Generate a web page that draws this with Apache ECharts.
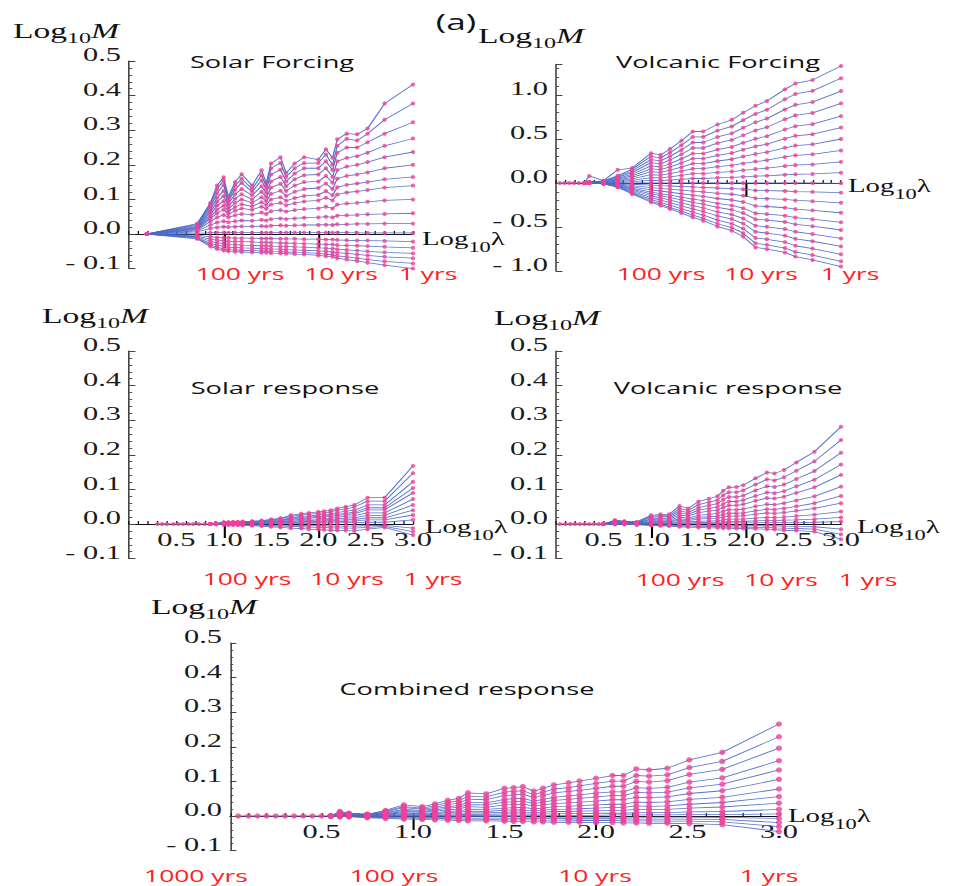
<!DOCTYPE html>
<html>
<head>
<meta charset="utf-8">
<script src="https://cdn.jsdelivr.net/npm/echarts@6/dist/echarts.min.js"></script>
<style>
html, body { margin: 0; padding: 0; background: #fff; overflow: hidden; }
/* the original figure is stretched sideways, so draw narrow and widen */
#chart { width: 595.625px; height: 886px; transform: scaleX(1.6); transform-origin: 0 0; }
</style>
</head>
<body>
<div id="chart"></div>
<script>
var S = 1.6;

// ---- Solar forcing ----
var solarForcingX = [0.19, 0.72, 0.86, 0.93, 1.0, 1.05, 1.12, 1.19, 1.3, 1.4, 1.45, 1.5, 1.6, 1.66, 1.75, 1.85, 2.0, 2.08, 2.15, 2.2, 2.3, 2.41, 2.52, 2.7, 3.0];
var solarForcingM = [
  [0, .03, .09, .14, .164, .107, .15, .173, .14, .184, .147, .204, .222, .176, .204, .222, .215, .245, .22, .274, .29, .288, .305, .377, .432],
  [0, .028, .085, .13, .155, .10, .14, .16, .13, .17, .138, .19, .205, .165, .19, .205, .205, .23, .2, .255, .275, .27, .29, .33, .377],
  [0, .025, .078, .118, .142, .095, .128, .148, .122, .155, .13, .172, .186, .152, .175, .19, .19, .21, .185, .235, .25, .25, .265, .29, .323],
  [0, .022, .07, .105, .125, .088, .115, .13, .112, .138, .118, .152, .165, .138, .158, .17, .172, .19, .165, .21, .22, .225, .235, .255, .276],
  [0, .02, .063, .093, .11, .08, .102, .115, .1, .122, .106, .134, .145, .124, .14, .15, .152, .168, .148, .185, .195, .2, .208, .222, .237],
  [0, .018, .056, .082, .095, .072, .09, .1, .09, .106, .095, .116, .125, .11, .122, .13, .133, .146, .13, .16, .168, .172, .178, .19, .2],
  [0, .016, .05, .07, .082, .064, .078, .086, .08, .092, .084, .1, .106, .096, .104, .11, .113, .124, .112, .135, .142, .146, .15, .158, .165],
  [0, .014, .044, .06, .07, .057, .067, .074, .07, .079, .073, .085, .09, .083, .089, .094, .097, .105, .097, .114, .12, .123, .127, .134, .14],
  [0, .012, .036, .048, .055, .048, .054, .058, .056, .062, .058, .066, .069, .065, .069, .072, .074, .079, .074, .085, .088, .09, .093, .097, .1],
  [0, .009, .026, .033, .037, .034, .037, .039, .038, .041, .039, .043, .045, .043, .045, .047, .048, .05, .048, .053, .054, .055, .057, .058, .06],
  [0, .006, .016, .019, .021, .02, .021, .022, .022, .023, .022, .024, .025, .024, .025, .026, .026, .027, .026, .028, .028, .029, .029, .03, .03],
  [0, .002, .004, .004, .004, .004, .004, .004, .004, .004, .004, .004, .004, .004, .004, .004, .004, .004, .004, .004, .004, .003, .003, .003, .003],
  [0, -.003, -.008, -.01, -.011, -.011, -.012, -.012, -.012, -.013, -.013, -.013, -.014, -.014, -.014, -.015, -.015, -.016, -.016, -.017, -.018, -.019, -.019, -.02, -.022],
  [0, -.006, -.015, -.018, -.02, -.021, -.022, -.022, -.023, -.024, -.024, -.025, -.026, -.026, -.027, -.028, -.029, -.03, -.03, -.032, -.033, -.034, -.035, -.037, -.04],
  [0, -.008, -.021, -.025, -.028, -.03, -.031, -.032, -.033, -.034, -.034, -.035, -.036, -.036, -.037, -.038, -.04, -.041, -.042, -.044, -.046, -.048, -.05, -.053, -.056],
  [0, -.01, -.027, -.032, -.036, -.038, -.039, -.04, -.041, -.042, -.042, -.043, -.044, -.045, -.046, -.047, -.049, -.05, -.052, -.054, -.056, -.059, -.062, -.066, -.07],
  [0, -.012, -.032, -.038, -.043, -.045, -.046, -.047, -.048, -.049, -.049, -.05, -.051, -.052, -.053, -.054, -.056, -.058, -.06, -.063, -.066, -.07, -.074, -.079, -.085],
  [0, -.014, -.036, -.043, -.048, -.05, -.051, -.052, -.053, -.054, -.054, -.055, -.056, -.057, -.058, -.059, -.062, -.064, -.066, -.07, -.074, -.078, -.083, -.09, -.1]
];

// ---- Volcanic forcing ----
var volcanicForcingTrunkX = [0.04, 0.09, 0.14, 0.19, 0.24, 0.3];
var volcanicForcingTrunkM = [0, 0, 0, 0, 0, 0];
var volcanicForcingX = [0.3, 0.35, 0.5, 0.65, 0.8, 1.0, 1.1, 1.2, 1.32, 1.44, 1.55, 1.7, 1.85, 1.97, 2.1, 2.22, 2.41, 2.52, 2.7, 3.0];
var volcanicForcingM = [
  [0, .08, .027, .15, .17, .339, .319, .386, .479, .585, .585, .665, .718, .798, .878, .931, 1.064, 1.131, 1.17, 1.33],
  [0, .012, .024, .083, .155, .303, .286, .345, .428, .524, .524, .595, .643, .714, .785, .833, .952, 1.012, 1.047, 1.19],
  [0, .01, .021, .073, .136, .266, .251, .303, .376, .46, .46, .523, .564, .627, .69, .732, .836, .888, .92, 1.045],
  [0, .009, .018, .063, .118, .231, .217, .262, .326, .398, .398, .453, .489, .543, .597, .634, .724, .769, .796, .905],
  [0, .008, .015, .053, .099, .194, .182, .22, .274, .334, .334, .38, .41, .456, .502, .532, .608, .646, .669, .76],
  [0, .006, .013, .044, .082, .161, .151, .183, .227, .277, .277, .315, .34, .378, .416, .441, .504, .536, .554, .63],
  [0, .005, .01, .035, .065, .128, .12, .145, .18, .22, .22, .25, .27, .3, .33, .35, .4, .425, .44, .5],
  [0, .004, .007, .026, .048, .094, .089, .107, .133, .163, .163, .185, .2, .222, .244, .259, .296, .315, .326, .37],
  [0, .002, .005, .017, .031, .061, .058, .07, .086, .106, .106, .12, .13, .144, .158, .168, .192, .204, .211, .24],
  [0, .001, .002, .008, .015, .03, .028, .034, .042, .051, .051, .059, .063, .07, .077, .082, .094, .099, .103, .117],
  [0, 0, 0, 0, 0, 0, 0, 0, 0, 0, 0, 0, 0, 0, 0, 0, 0, 0, 0, -.004],
  [0, 0, -.001, -.006, -.014, -.025, -.03, -.034, -.04, -.045, -.05, -.057, -.063, -.07, -.085, -.087, -.091, -.097, -.101, -.11],
  [0, 0, -.002, -.011, -.029, -.052, -.061, -.07, -.081, -.092, -.101, -.117, -.128, -.144, -.173, -.178, -.187, -.198, -.207, -.225],
  [0, 0, -.003, -.017, -.044, -.078, -.091, -.105, -.122, -.139, -.152, -.176, -.193, -.216, -.26, -.267, -.281, -.297, -.311, -.338],
  [0, 0, -.004, -.022, -.058, -.103, -.121, -.139, -.161, -.183, -.201, -.232, -.255, -.286, -.344, -.353, -.371, -.393, -.411, -.447],
  [0, 0, -.005, -.027, -.069, -.123, -.144, -.166, -.192, -.219, -.24, -.278, -.304, -.342, -.411, -.422, -.443, -.47, -.491, -.534],
  [0, 0, -.006, -.032, -.082, -.145, -.17, -.195, -.227, -.258, -.284, -.328, -.359, -.403, -.485, -.498, -.523, -.554, -.58, -.63],
  [0, 0, -.007, -.036, -.094, -.166, -.194, -.223, -.259, -.295, -.324, -.374, -.41, -.461, -.554, -.569, -.598, -.634, -.662, -.72],
  [0, 0, -.008, -.041, -.105, -.186, -.219, -.251, -.292, -.332, -.365, -.421, -.462, -.518, -.624, -.64, -.672, -.713, -.745, -.81],
  [0, 0, -.009, -.045, -.116, -.205, -.24, -.276, -.32, -.365, -.401, -.463, -.507, -.57, -.685, -.703, -.739, -.783, -.819, -.89],
  [0, 0, -.01, -.048, -.124, -.219, -.257, -.295, -.342, -.39, -.428, -.494, -.542, -.608, -.732, -.751, -.789, -.836, -.874, -.95]
];

// ---- Solar response ----
var solarResponseTrunkX = [0.3, 0.35, 0.4, 0.47, 0.52, 0.57, 0.63, 0.68, 0.74, 0.8, 0.86];
var solarResponseTrunkM = [0, 0, 0, 0, 0, 0, 0, 0, 0, 0, 0];
var solarResponseX = [0.86, 0.92, 1.0, 1.05, 1.1, 1.15, 1.2, 1.3, 1.4, 1.5, 1.6, 1.71, 1.82, 1.9, 2.0, 2.06, 2.13, 2.2, 2.29, 2.38, 2.52, 2.7, 3.0];
var solarResponseM = [
  [0, .002, .005, .005, .006, .006, .007, .008, .01, .013, .017, .025, .03, .032, .035, .037, .04, .045, .05, .055, .076, .076, .168],
  [0, .001, .004, .004, .005, .005, .006, .007, .009, .012, .015, .022, .026, .028, .031, .032, .035, .04, .044, .049, .066, .066, .147],
  [0, .001, .004, .004, .004, .005, .005, .006, .007, .01, .012, .018, .022, .023, .026, .027, .029, .033, .037, .04, .055, .055, .122],
  [0, .001, .003, .003, .004, .004, .004, .005, .006, .008, .01, .016, .019, .02, .022, .023, .025, .028, .031, .034, .047, .047, .104],
  [0, .001, .003, .003, .003, .003, .004, .005, .005, .007, .009, .014, .016, .017, .019, .02, .022, .024, .027, .03, .041, .041, .09],
  [0, .001, .002, .002, .003, .003, .003, .004, .004, .006, .007, .011, .013, .014, .015, .016, .017, .019, .022, .024, .032, .032, .072],
  [0, .001, .002, .002, .002, .002, .002, .003, .003, .004, .006, .008, .01, .01, .012, .012, .013, .015, .017, .018, .025, .025, .055],
  [0, 0, .001, .001, .001, .001, .002, .002, .002, .003, .004, .006, .007, .008, .008, .009, .01, .011, .012, .013, .018, .018, .04],
  [0, 0, .001, .001, .001, .001, .001, .001, .002, .002, .003, .004, .005, .005, .005, .006, .006, .007, .008, .009, .012, .012, .026],
  [0, 0, 0, 0, 0, 0, 0, .001, .001, .001, .001, .002, .002, .002, .003, .003, .003, .003, .004, .004, .005, .005, .012],
  [0, 0, -.001, -.001, -.001, -.001, -.001, -.002, -.002, -.003, -.003, -.004, -.004, -.005, -.005, -.005, -.006, -.006, -.006, -.006, -.005, -.004, -.012],
  [0, 0, -.001, -.002, -.002, -.002, -.003, -.003, -.004, -.005, -.006, -.007, -.008, -.009, -.01, -.01, -.011, -.011, -.012, -.012, -.01, -.007, -.022],
  [0, -.001, -.002, -.002, -.003, -.003, -.004, -.005, -.006, -.008, -.01, -.012, -.013, -.015, -.016, -.017, -.018, -.018, -.019, -.02, -.015, -.01, -.032]
];

// ---- Volcanic response ----
var volcanicResponseTrunkX = [0.04, 0.1, 0.15, 0.2, 0.25, 0.3, 0.35, 0.4, 0.45, 0.5];
var volcanicResponseTrunkM = [0, 0, 0, 0, 0, 0, 0, 0, 0, 0];
var volcanicResponseX = [0.5, 0.62, 0.72, 0.85, 1.0, 1.1, 1.19, 1.3, 1.39, 1.5, 1.61, 1.7, 1.76, 1.82, 1.9, 1.97, 2.1, 2.22, 2.3, 2.4, 2.53, 2.72, 3.0];
var volcanicResponseM = [
  [0, .011, .008, .006, .025, .028, .028, .052, .045, .065, .073, .08, .096, .106, .107, .112, .132, .149, .146, .156, .178, .209, .281],
  [0, .01, .007, .005, .022, .024, .024, .045, .039, .056, .063, .069, .083, .092, .092, .097, .114, .129, .126, .135, .154, .181, .243],
  [0, .008, .006, .004, .019, .021, .021, .038, .033, .047, .054, .059, .07, .078, .078, .082, .097, .109, .107, .114, .13, .153, .206],
  [0, .007, .005, .003, .015, .017, .017, .032, .028, .04, .045, .049, .058, .065, .065, .069, .081, .091, .089, .095, .109, .128, .172],
  [0, .006, .004, .003, .013, .014, .014, .026, .023, .033, .037, .04, .048, .054, .054, .057, .067, .075, .074, .079, .09, .106, .142],
  [0, .004, .003, .002, .01, .011, .011, .02, .017, .025, .028, .031, .037, .041, .041, .043, .051, .057, .056, .06, .068, .08, .108],
  [0, .003, .002, .002, .007, .008, .008, .015, .013, .019, .021, .023, .028, .031, .031, .032, .038, .043, .042, .045, .051, .06, .081],
  [0, .002, .002, .001, .005, .006, .006, .011, .01, .014, .016, .017, .02, .023, .023, .024, .028, .032, .031, .033, .038, .045, .06],
  [0, .001, .001, .001, .003, .004, .004, .007, .006, .008, .009, .01, .012, .014, .014, .014, .017, .019, .019, .02, .023, .027, .036],
  [0, .001, .001, 0, .002, .002, .002, .004, .003, .004, .005, .005, .006, .007, .007, .008, .009, .01, .01, .011, .012, .014, .019],
  [0, 0, 0, 0, .001, .001, .001, .001, .001, .002, .002, .002, .002, .003, .003, .003, .003, .004, .004, .004, .004, .005, .007],
  [0, 0, 0, -.001, -.002, -.002, -.002, -.003, -.003, -.003, -.004, -.004, -.004, -.004, -.004, -.005, -.005, -.005, -.005, -.006, -.007, -.008, -.015],
  [0, -.001, -.001, -.002, -.003, -.004, -.004, -.005, -.006, -.007, -.007, -.008, -.008, -.008, -.009, -.009, -.01, -.01, -.011, -.012, -.013, -.015, -.03],
  [0, -.001, -.001, -.002, -.004, -.005, -.006, -.008, -.009, -.01, -.011, -.011, -.012, -.012, -.013, -.013, -.014, -.015, -.016, -.018, -.019, -.022, -.044]
];

// ---- Combined response ----
var combinedTrunkX = [0.044, 0.1, 0.15, 0.2, 0.25, 0.3, 0.35, 0.4, 0.45, 0.5, 0.55];
var combinedTrunkM = [0, 0, 0, 0, 0, 0, 0, 0, 0, 0, 0];
var combinedX = [0.55, 0.6, 0.65, 0.75, 0.85, 0.95, 1.05, 1.12, 1.19, 1.25, 1.3, 1.4, 1.5, 1.55, 1.6, 1.66, 1.71, 1.77, 1.85, 1.91, 2.0, 2.09, 2.15, 2.22, 2.29, 2.39, 2.51, 2.69, 3.0];
var combinedM = [
  [0, .013, .008, .005, .016, .032, .027, .035, .045, .051, .067, .064, .08, .082, .085, .072, .08, .09, .096, .101, .109, .117, .117, .136, .133, .138, .162, .184, .266],
  [0, .011, .007, .005, .014, .027, .023, .03, .039, .044, .057, .055, .069, .071, .073, .062, .069, .078, .082, .087, .094, .101, .101, .117, .115, .119, .14, .158, .229],
  [0, .01, .006, .004, .012, .024, .02, .025, .033, .037, .049, .047, .059, .061, .063, .053, .059, .067, .071, .074, .08, .086, .086, .1, .098, .102, .12, .135, .196],
  [0, .008, .005, .003, .01, .019, .016, .021, .027, .03, .04, .038, .048, .05, .051, .043, .048, .054, .058, .061, .066, .07, .07, .082, .08, .083, .098, .11, .16],
  [0, .007, .004, .003, .008, .016, .013, .017, .023, .025, .033, .032, .04, .041, .043, .036, .04, .045, .048, .051, .055, .059, .059, .068, .067, .069, .081, .092, .133],
  [0, .005, .003, .002, .006, .013, .011, .014, .018, .02, .027, .025, .032, .033, .034, .029, .032, .036, .038, .04, .043, .047, .047, .054, .053, .055, .065, .073, .106],
  [0, .004, .002, .002, .005, .009, .008, .01, .013, .015, .02, .019, .023, .024, .025, .021, .023, .027, .028, .03, .032, .034, .034, .04, .039, .041, .048, .054, .078],
  [0, .003, .002, .001, .003, .007, .006, .007, .01, .011, .014, .013, .017, .017, .018, .015, .017, .019, .02, .021, .023, .025, .025, .029, .028, .029, .034, .039, .056],
  [0, .002, .001, .001, .002, .004, .004, .005, .006, .007, .009, .009, .011, .011, .012, .01, .011, .013, .013, .014, .015, .016, .016, .019, .019, .019, .023, .026, .037],
  [0, .001, .001, 0, .001, .002, .002, .002, .003, .004, .005, .005, .006, .006, .006, .005, .006, .006, .007, .007, .008, .008, .008, .01, .01, .01, .012, .013, .019],
  [0, 0, 0, 0, 0, .001, .001, .001, .001, .001, .002, .001, .002, .002, .002, .002, .002, .002, .002, .002, .002, .003, .003, .003, .003, .003, .004, .004, .006],
  [0, 0, 0, -.001, -.001, -.001, -.002, -.002, -.002, -.002, -.002, -.002, -.002, -.002, -.003, -.003, -.003, -.003, -.003, -.003, -.003, -.003, -.003, -.003, -.003, -.003, -.003, -.004, -.007],
  [0, -.001, -.001, -.002, -.003, -.004, -.004, -.005, -.005, -.005, -.006, -.006, -.006, -.007, -.007, -.007, -.007, -.007, -.008, -.008, -.008, -.008, -.008, -.009, -.009, -.009, -.009, -.01, -.019],
  [0, -.002, -.002, -.003, -.005, -.006, -.007, -.007, -.008, -.009, -.009, -.01, -.011, -.011, -.011, -.011, -.012, -.012, -.012, -.013, -.013, -.013, -.014, -.014, -.014, -.015, -.015, -.017, -.031],
  [0, -.002, -.002, -.005, -.007, -.009, -.01, -.011, -.012, -.013, -.014, -.014, -.015, -.016, -.016, -.017, -.017, -.018, -.018, -.018, -.019, -.019, -.02, -.02, -.021, -.021, -.022, -.025, -.045]
];

var yrsLabels = ['100 yrs', '10 yrs', '1 yrs'];
var yrsLabels5 = ['1000 yrs', '100 yrs', '10 yrs', '1 yrs'];

// layout in real pixels (x gets divided by S)
var panels = [
  { title: 'Solar Forcing', x: solarForcingX, m: solarForcingM, tx: null, tm: null,
    left: 129, right: 413, top: 61, bottom: 268.6, ymin: -0.1, ymax: 0.5, step: 0.1, showMax: true, xLabels: false, dot: [2.8, 4],
    titlePos: [272, 62], mLab: [13, 38], lLab: [422, 245], yrs: yrsLabels, yrsX: [240, 341, 428], yrsY: 273 },
  { title: 'Volcanic Forcing', x: volcanicForcingX, m: volcanicForcingM, tx: volcanicForcingTrunkX, tm: volcanicForcingTrunkM,
    left: 556, right: 841, top: 64.2, bottom: 271, ymin: -1.0, ymax: 1.35, step: 0.5, showMax: false, xLabels: false, dot: [2.8, 4],
    titlePos: [718, 62], mLab: [478, 43], lLab: [848, 192], yrs: yrsLabels, yrsX: [661, 761, 850], yrsY: 273 },
  { title: 'Solar response', x: solarResponseX, m: solarResponseM, tx: solarResponseTrunkX, tm: solarResponseTrunkM,
    left: 129, right: 413, top: 351, bottom: 558.6, ymin: -0.1, ymax: 0.5, step: 0.1, showMax: true, xLabels: true, dot: [2.8, 4],
    titlePos: [285, 388], mLab: [42, 323], lLab: [425, 533], yrs: yrsLabels, yrsX: [247, 347, 433], yrsY: 578 },
  { title: 'Volcanic response', x: volcanicResponseX, m: volcanicResponseM, tx: volcanicResponseTrunkX, tm: volcanicResponseTrunkM,
    left: 556, right: 841, top: 351, bottom: 558.6, ymin: -0.1, ymax: 0.5, step: 0.1, showMax: true, xLabels: true, dot: [2.8, 4],
    titlePos: [728, 388], mLab: [494, 325], lLab: [857, 533], yrs: yrsLabels, yrsX: [680, 781, 868], yrsY: 579 },
  { title: 'Combined response', x: combinedX, m: combinedM, tx: combinedTrunkX, tm: combinedTrunkM,
    left: 230, right: 779, top: 643, bottom: 850.6, ymin: -0.1, ymax: 0.5, step: 0.1, showMax: true, xLabels: true, dot: [3.9, 5.4],
    titlePos: [467, 689], mLab: [151, 614], lLab: [788, 822], yrs: yrsLabels5, yrsX: [196, 394, 595, 769], yrsY: 875 }
];

var lineColor = '#4c6cc6';
var dotColor = '#ee4299';
var serif = "'Liberation Serif', 'Times New Roman', serif";
var sans = "'Open Sans', 'Liberation Sans', sans-serif";

var grids = [], xAxes = [], yAxes = [], series = [], graphics = [];

var measureCtx = document.createElement('canvas').getContext('2d');
function textWidth(t, font) { measureCtx.font = font; return measureCtx.measureText(t).width; }
function txt(t, x, y, font, color, align) {
  return { type: 'text', silent: true,
    style: { text: t, x: x, y: y, font: font, fill: color || '#111', textAlign: align || 'left', textVerticalAlign: 'middle' } };
}
function logLabel(leftReal, base, sym, big, small, drop, italic) {
  var x = leftReal / S;
  var fBig = big + 'px ' + serif, fSmall = small + 'px ' + serif;
  var fSym = (italic ? 'italic ' : '') + fBig;
  var w1 = textWidth('Log', fBig), w2 = textWidth('10', fSmall);
  return [
    txt('Log', x, base - 0.33 * big, fBig),
    txt('10', x + w1, base + drop - 0.33 * small, fSmall),
    txt(sym, x + w1 + w2, base - 0.33 * big, fSym)
  ];
}

panels.forEach(function (p, i) {
  var h = p.bottom - p.top;
  // lift the x axis from the grid bottom up to the zero line
  var lift = -(h * (0 - p.ymin) / (p.ymax - p.ymin));
  grids.push({ left: p.left / S, top: p.top, width: (p.right - p.left) / S, height: h,
    outerBoundsMode: 'none', containLabel: false });

  xAxes.push({
    gridIndex: i, type: 'value', min: 0, max: 3, interval: 0.1, position: 'bottom', offset: lift,
    axisLine: { onZero: false, lineStyle: { color: '#111', width: 1 } },
    axisTick: { inside: true, length: 3, lineStyle: { color: '#111', width: 0.8 } },
    splitLine: { show: false },
    axisLabel: {
      show: p.xLabels, margin: 6, fontFamily: serif, fontSize: 19, color: '#1a1a1a',
      formatter: function (v) {
        var k = Math.round(v * 10);
        return (k % 5 === 0 && k > 0) ? (k / 10).toFixed(1) : '';
      }
    }
  });
  // long ticks at 100 yrs and 10 yrs
  xAxes.push({
    gridIndex: i, type: 'value', min: 0, max: 3, position: 'bottom', offset: lift,
    axisLine: { show: false, onZero: false },
    axisTick: { show: true, inside: false, length: 14, customValues: [1, 2], lineStyle: { color: '#000', width: 1.3 } },
    axisLabel: { show: false }, splitLine: { show: false }
  });

  yAxes.push({
    gridIndex: i, type: 'value', min: p.ymin, max: p.ymax, interval: p.step,
    axisLine: { show: true, onZero: false, lineStyle: { color: '#444', width: 1 } },
    axisTick: { show: true, inside: true, length: 4, lineStyle: { color: '#444' } },
    minorTick: { show: true, splitNumber: 5, length: 2, lineStyle: { color: '#555' } },
    splitLine: { show: false }, minorSplitLine: { show: false },
    axisLabel: {
      margin: 5, fontFamily: serif, fontSize: 19, color: '#1a1a1a', showMaxLabel: p.showMax, showMinLabel: true,
      verticalAlign: 'bottom', lineHeight: 13,
      formatter: function (v) {
        var k = v / p.step;
        if (Math.abs(k - Math.round(k)) > 1e-6) return '';
        var s = Math.abs(v).toFixed(1);
        return v < -1e-9 ? '- ' + s : s;
      }
    }
  });

  var pts = [];
  var addLine = function (xs, ys) {
    var d = [];
    for (var j = 0; j < xs.length && j < ys.length; j++) { d.push([xs[j], ys[j]]); pts.push([xs[j], ys[j]]); }
    series.push({ type: 'line', xAxisIndex: 2 * i, yAxisIndex: i, data: d, symbol: 'none', silent: true,
      lineStyle: { color: lineColor, width: 0.8, opacity: 0.95 }, z: 2 });
  };
  if (p.tx) addLine(p.tx, p.tm);
  p.m.forEach(function (row) { addLine(p.x, row); });
  series.push({ type: 'scatter', xAxisIndex: 2 * i, yAxisIndex: i, data: pts, symbol: 'circle',
    symbolSize: p.dot, itemStyle: { color: dotColor }, silent: true, z: 3 });

  graphics.push(txt(p.title, p.titlePos[0] / S, p.titlePos[1], '17px ' + sans, '#111', 'center'));
  graphics = graphics.concat(logLabel(p.mLab[0], p.mLab[1], 'M', 21, 15, 5, true));
  graphics = graphics.concat(logLabel(p.lLab[0], p.lLab[1], 'λ', 18, 14, 7, false));
  p.yrs.forEach(function (t, k) {
    graphics.push(txt(t, p.yrsX[k] / S, p.yrsY, '16.5px ' + sans, '#ff2020', 'center'));
  });
});

graphics.push(txt('(a)', 456 / S, 22, '22px ' + sans, '#111', 'center'));

var chart = echarts.init(document.getElementById('chart'), null, { renderer: 'svg' });
chart.setOption({
  animation: false,
  backgroundColor: '#fff',
  grid: grids,
  xAxis: xAxes,
  yAxis: yAxes,
  series: series,
  graphic: { elements: graphics }
});
</script>
</body>
</html>
